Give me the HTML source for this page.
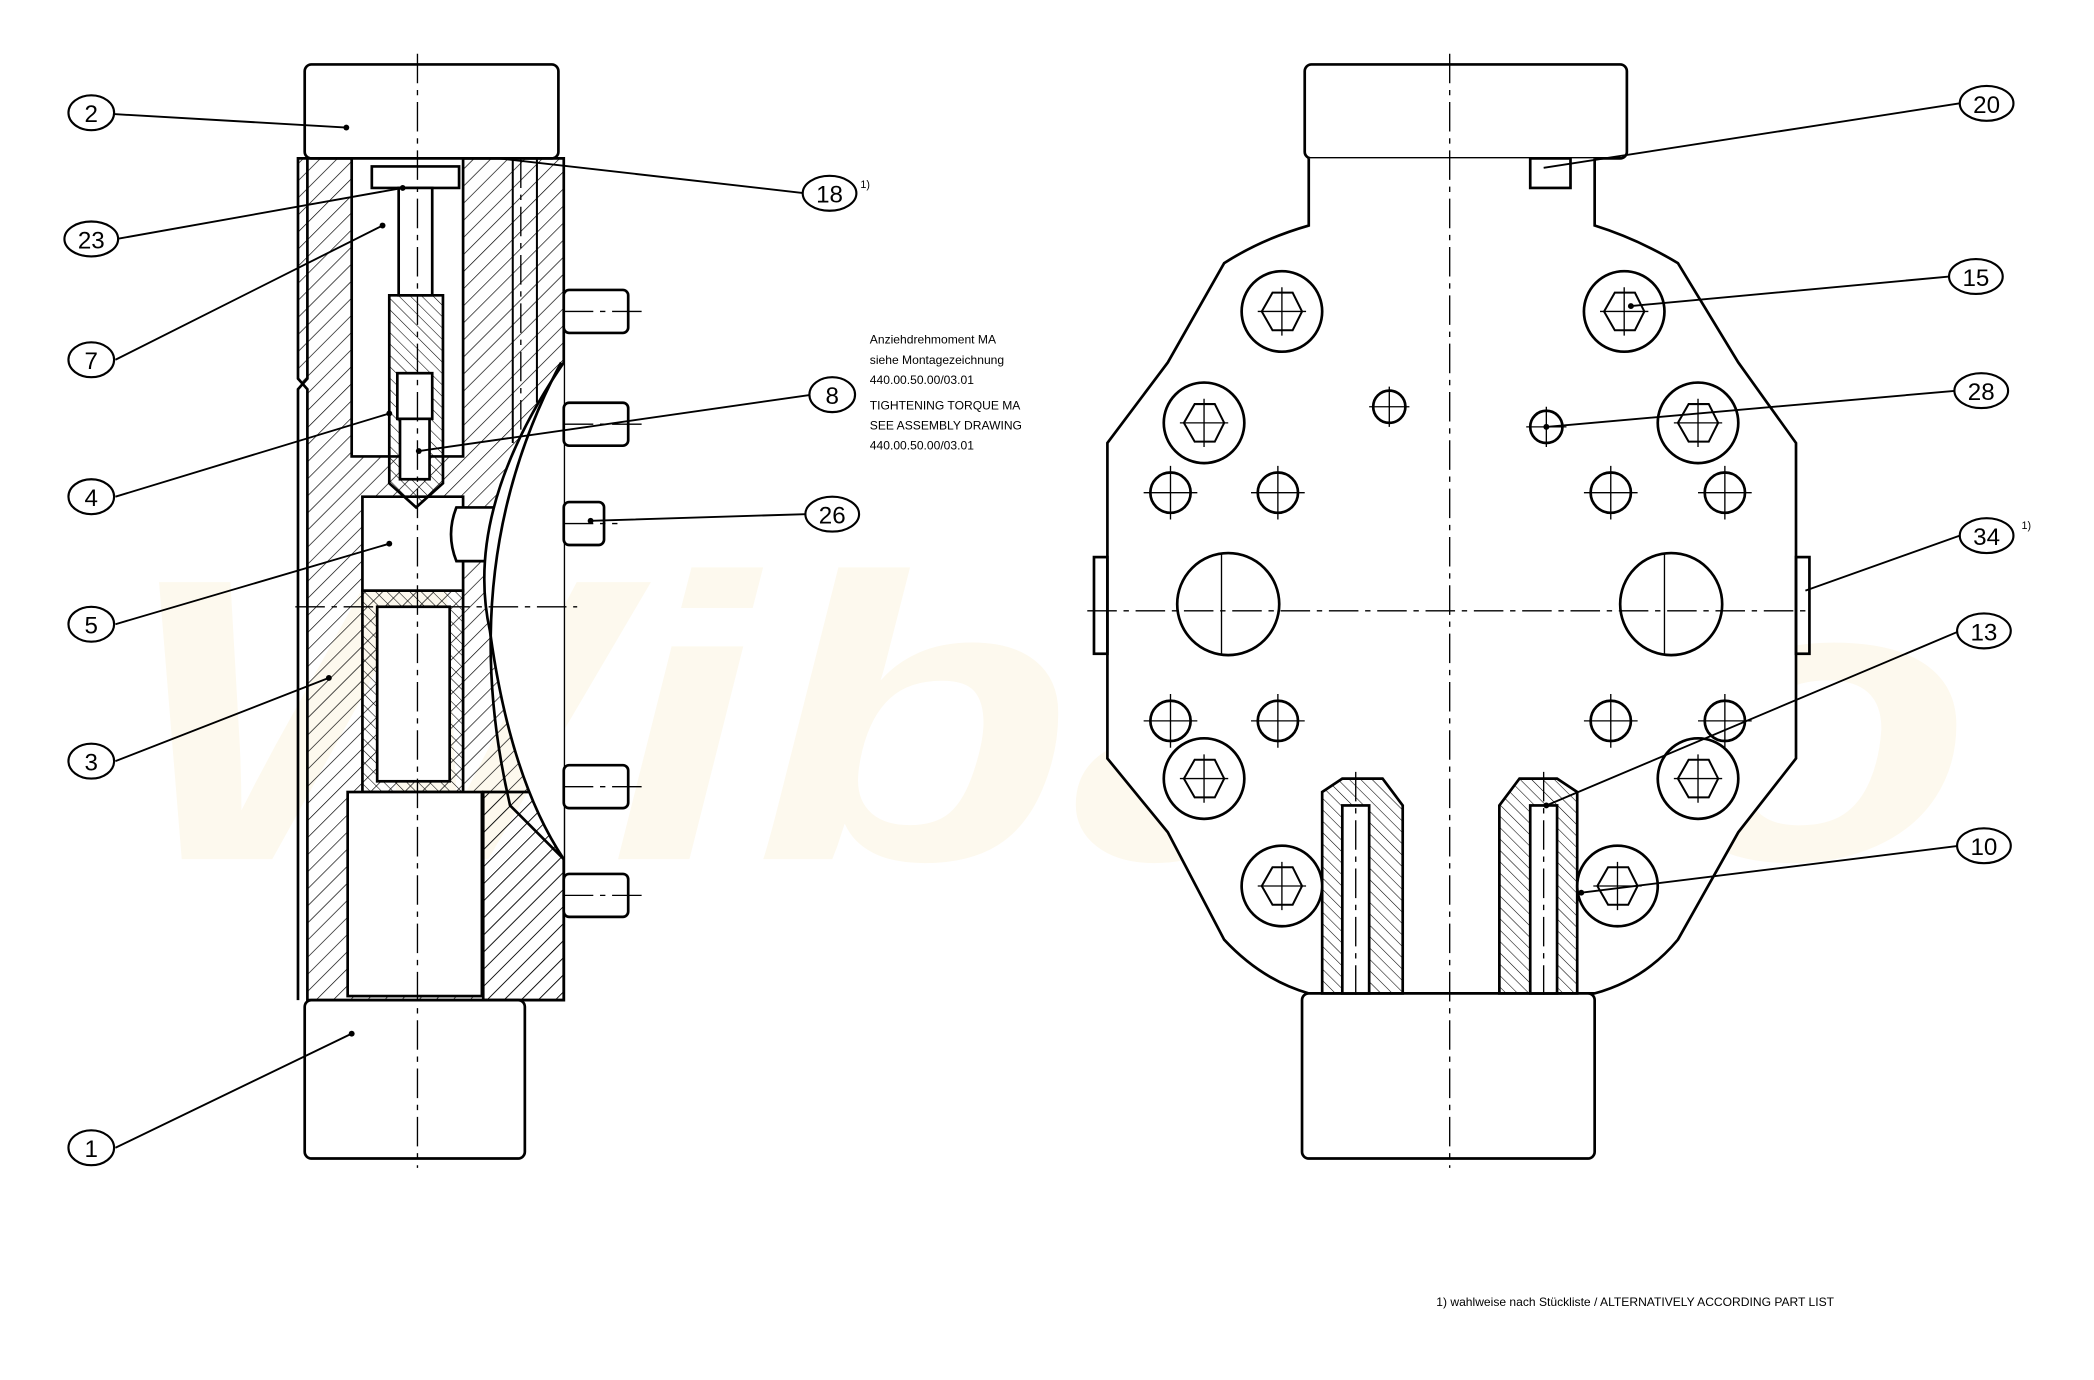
<!DOCTYPE html>
<html><head><meta charset="utf-8"><style>
html,body{margin:0;padding:0;background:#fff;}
svg{display:block;}
text{font-family:"Liberation Sans",sans-serif;}
</style></head><body>
<svg width="2094" height="1380" viewBox="0 0 1560 1028" preserveAspectRatio="none" xmlns="http://www.w3.org/2000/svg">
<defs>
<pattern id="h" width="9" height="9" patternUnits="userSpaceOnUse" patternTransform="rotate(45)"><line x1="0" y1="0" x2="0" y2="9" stroke="#000" stroke-width="1"/></pattern>
<pattern id="h2" width="6" height="6" patternUnits="userSpaceOnUse" patternTransform="rotate(-45)"><line x1="0" y1="0" x2="0" y2="6" stroke="#000" stroke-width="0.8"/></pattern>
</defs>
<rect width="1560" height="1028" fill="#fff"/>
<!-- watermark -->
<text x="90" y="640" font-size="300" font-weight="bold" font-style="italic" fill="#fdf9ee" textLength="1380" lengthAdjust="spacingAndGlyphs">Wibako</text>

<g fill="none" stroke="#000" stroke-width="2">
<!-- LEFT VIEW -->
<rect x="227" y="48" width="189" height="70" rx="5" fill="#fff"/>
<rect x="227" y="745" width="164" height="118" rx="5" fill="#fff"/>
<path d="M229 118 H420 V745 H229 V290 L222 282 V118 Z" fill="url(#h)"/>
<path d="M229 118 V282 L222 290 V745" />
<!-- inner bore -->
<path d="M262 118 H345 V340 H262 Z" fill="#fff"/>
<path d="M270 370 H345 V440 H270 Z" fill="#fff"/>
<path d="M270 440 H345 V590 H270 Z" fill="url(#h2)"/>
<rect x="281" y="452" width="54" height="130" fill="#fff"/>
<rect x="259" y="590" width="100" height="152" fill="#fff"/>
<path d="M360 590 H420 V745 H360 Z" fill="url(#h)"/>
<!-- screw -->
<path d="M277 124 H342 V140 H277 Z" fill="#fff"/>
<path d="M297 140 H322 V220 H297 Z" fill="#fff"/>
<path d="M290 220 H330 V360 L310 378 L290 360 Z" fill="url(#h2)"/>
<rect x="296" y="278" width="26" height="34" fill="#fff"/>
<rect x="298" y="312" width="22" height="45" fill="#fff"/>
<!-- cross pin -->
<path d="M340 378 H395 V418 H340 Q332 398 340 378 Z" fill="#fff"/>
<!-- curved cavity -->
<path d="M420 270 Q345 380 365 470 Q380 580 420 640" fill="#fff"/>
<path d="M418 270 Q338 420 380 600 L420 640" />
<!-- studs -->
<rect x="420" y="216" width="48" height="32" rx="4" fill="#fff"/>
<rect x="420" y="300" width="48" height="32" rx="4" fill="#fff"/>
<rect x="420" y="374" width="30" height="32" rx="4" fill="#fff"/>
<rect x="420" y="570" width="48" height="32" rx="4" fill="#fff"/>
<rect x="420" y="651" width="48" height="32" rx="4" fill="#fff"/>
<line x1="382" y1="118" x2="382" y2="330" stroke-width="1.5"/>
<line x1="400" y1="118" x2="400" y2="300" stroke-width="1.5"/>
</g>
<g stroke="#000" stroke-width="1" stroke-dasharray="22 5 4 5">
<line x1="311" y1="40" x2="311" y2="870"/>
<line x1="388" y1="118" x2="388" y2="320"/>
<line x1="420" y1="232" x2="480" y2="232"/><line x1="420" y1="316" x2="480" y2="316"/>
<line x1="420" y1="390" x2="460" y2="390"/><line x1="420" y1="586" x2="480" y2="586"/>
<line x1="420" y1="667" x2="480" y2="667"/>
<line x1="220" y1="452" x2="430" y2="452"/>
</g>

<!-- RIGHT VIEW -->
<g fill="none" stroke="#000" stroke-width="2">
<rect x="972" y="48" width="240" height="70" rx="5" fill="#fff"/>
<path d="M975 118 V168 Q940 178 912 196 L870 270 L825 330 V565 L870 620 L912 700 Q940 730 975 740 H1188 Q1225 730 1250 700 L1295 620 L1338 565 V330 L1295 270 L1250 196 Q1220 178 1188 168 V118" fill="#fff"/>
<rect x="970" y="740" width="218" height="123" rx="5" fill="#fff"/>
<rect x="815" y="415" width="10" height="72" />
<rect x="1338" y="415" width="10" height="72" />
<rect x="1140" y="118" width="30" height="22" fill="#fff"/>
<!-- nozzles -->
<path d="M985 740 V590 L1000 580 H1030 L1045 600 V740 Z" fill="url(#h2)"/>
<rect x="1000" y="600" width="20" height="140" fill="#fff"/>
<path d="M1117 740 V600 L1132 580 H1160 L1175 590 V740 Z" fill="url(#h2)"/>
<rect x="1140" y="600" width="20" height="140" fill="#fff"/>
</g>
<g fill="#fff" stroke="#000" stroke-width="2">
<circle cx="955" cy="232" r="30"/><circle cx="1210" cy="232" r="30"/>
<circle cx="897" cy="315" r="30"/><circle cx="1265" cy="315" r="30"/>
<circle cx="897" cy="580" r="30"/><circle cx="1265" cy="580" r="30"/>
<circle cx="955" cy="660" r="30"/><circle cx="1205" cy="660" r="30"/>
<g stroke-width="1.5">
<polygon points="940,232 948,218 963,218 970,232 963,246 948,246"/>
<polygon points="1195,232 1203,218 1218,218 1225,232 1218,246 1203,246"/>
<polygon points="882,315 890,301 905,301 912,315 905,329 890,329"/>
<polygon points="1250,315 1258,301 1273,301 1280,315 1273,329 1258,329"/>
<polygon points="882,580 890,566 905,566 912,580 905,594 890,594"/>
<polygon points="1250,580 1258,566 1273,566 1280,580 1273,594 1258,594"/>
<polygon points="940,660 948,646 963,646 970,660 963,674 948,674"/>
<polygon points="1190,660 1198,646 1213,646 1220,660 1213,674 1198,674"/>
</g>
<circle cx="872" cy="367" r="15"/><circle cx="952" cy="367" r="15"/>
<circle cx="1200" cy="367" r="15"/><circle cx="1285" cy="367" r="15"/>
<circle cx="872" cy="537" r="15"/><circle cx="952" cy="537" r="15"/>
<circle cx="1200" cy="537" r="15"/><circle cx="1285" cy="537" r="15"/>
<circle cx="915" cy="450" r="38"/><circle cx="1245" cy="450" r="38"/>
<circle cx="1035" cy="303" r="12"/><circle cx="1152" cy="318" r="12"/>
</g>
<g stroke="#000" stroke-width="1">
<line x1="910" y1="412" x2="910" y2="488"/><line x1="1240" y1="412" x2="1240" y2="488"/>
</g>
<g stroke="#000" stroke-width="1" stroke-dasharray="22 5 4 5">
<line x1="1080" y1="40" x2="1080" y2="870"/>
<line x1="810" y1="455" x2="1350" y2="455"/>
<line x1="1010" y1="575" x2="1010" y2="745"/><line x1="1150" y1="575" x2="1150" y2="745"/>
</g>
<g stroke="#000" stroke-width="1">
<path d="M852 367h40M872 347v40M932 367h40M952 347v40M1180 367h40M1200 347v40M1265 367h40M1285 347v40M852 537h40M872 517v40M932 537h40M952 517v40M1180 537h40M1200 517v40M1265 537h40M1285 517v40M1020 303h30M1035 288v30M1137 318h30M1152 303v30M937 232h36M955 214v36M1192 232h36M1210 214v36M879 315h36M897 297v36M1247 315h36M1265 297v36M879 580h36M897 562v36M1247 580h36M1265 562v36M937 660h36M955 642v36M1187 660h36M1205 642v36"/>
</g>

<!-- leaders and balloons -->
<g stroke="#000" stroke-width="1.4" fill="none">
<path d="M85 85 L258 95 M87 178 L300 140 M86 268 L285 168 M86 370 L290 308 M86 465 L290 405 M86 567 L245 505 M86 855 L262 770 M600 144 L372 118 M605 294 L312 336 M600 383 L440 388 M1460 77 L1150 125 M1452 206 L1215 228 M1458 291 L1152 318 M1460 399 L1345 440 M1460 470 L1152 600 M1460 630 L1178 665"/>
</g>
<g fill="#000"><circle cx="258" cy="95" r="2.2"/><circle cx="300" cy="140" r="2.2"/><circle cx="285" cy="168" r="2.2"/><circle cx="290" cy="308" r="2.2"/><circle cx="290" cy="405" r="2.2"/><circle cx="245" cy="505" r="2.2"/><circle cx="262" cy="770" r="2.2"/><circle cx="312" cy="336" r="2.2"/><circle cx="440" cy="388" r="2.2"/><circle cx="1215" cy="228" r="2.2"/><circle cx="1152" cy="318" r="2.2"/><circle cx="1152" cy="600" r="2.2"/><circle cx="1178" cy="665" r="2.2"/></g>
<g fill="#fff" stroke="#000" stroke-width="1.6">
<ellipse cx="68" cy="84" rx="17" ry="13"/><ellipse cx="68" cy="178" rx="20" ry="13"/>
<ellipse cx="68" cy="268" rx="17" ry="13"/><ellipse cx="68" cy="370" rx="17" ry="13"/>
<ellipse cx="68" cy="465" rx="17" ry="13"/><ellipse cx="68" cy="567" rx="17" ry="13"/>
<ellipse cx="68" cy="855" rx="17" ry="13"/>
<ellipse cx="618" cy="144" rx="20" ry="13"/><ellipse cx="620" cy="294" rx="17" ry="13"/>
<ellipse cx="620" cy="383" rx="20" ry="13"/>
<ellipse cx="1480" cy="77" rx="20" ry="13"/><ellipse cx="1472" cy="206" rx="20" ry="13"/>
<ellipse cx="1476" cy="291" rx="20" ry="13"/><ellipse cx="1480" cy="399" rx="20" ry="13"/>
<ellipse cx="1478" cy="470" rx="20" ry="13"/><ellipse cx="1478" cy="630" rx="20" ry="13"/>
</g>
<g font-size="18" text-anchor="middle" fill="#000">
<text x="68" y="91">2</text><text x="68" y="185">23</text><text x="68" y="275">7</text>
<text x="68" y="377">4</text><text x="68" y="472">5</text><text x="68" y="574">3</text>
<text x="68" y="862">1</text><text x="618" y="151">18</text><text x="620" y="301">8</text>
<text x="620" y="390">26</text><text x="1480" y="84">20</text><text x="1472" y="213">15</text>
<text x="1476" y="298">28</text><text x="1480" y="406">34</text><text x="1478" y="477">13</text>
<text x="1478" y="637">10</text>
</g>
<g font-size="8" fill="#000"><text x="641" y="140">1)</text><text x="1506" y="394">1)</text></g>
<g font-size="9" fill="#000" font-family="Liberation Sans Narrow, Liberation Sans, sans-serif">
<text x="648" y="256">Anziehdrehmoment MA</text>
<text x="648" y="271">siehe Montagezeichnung</text>
<text x="648" y="286">440.00.50.00/03.01</text>
<text x="648" y="305">TIGHTENING TORQUE MA</text>
<text x="648" y="320">SEE ASSEMBLY DRAWING</text>
<text x="648" y="335">440.00.50.00/03.01</text>
<text x="1070" y="973">1) wahlweise nach Stückliste / ALTERNATIVELY ACCORDING PART LIST</text>
</g>
</svg>
</body></html>
